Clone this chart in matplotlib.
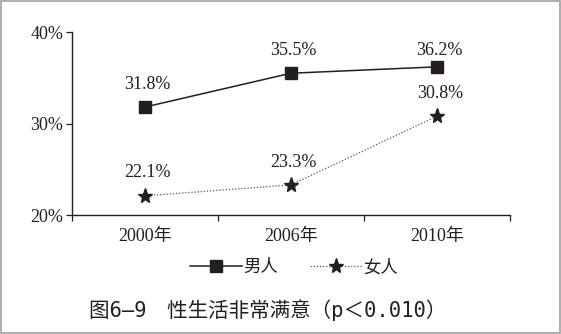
import matplotlib
matplotlib.use("Agg")
import matplotlib.pyplot as plt
from matplotlib.patches import Rectangle

# -----------------------------
# Data
# -----------------------------
years = ["2000年", "2006年", "2010年"]
men = [31.8, 35.5, 36.2]
women = [22.1, 23.3, 30.8]
y_ticks = [20, 30, 40]
y_tick_labels = ["20%", "30%", "40%"]
caption = "图6—9　性生活非常满意（p＜0.010）"

serif = ["Liberation Serif", "Noto Sans CJK SC"]
cjk = ["Noto Sans CJK SC", "DejaVu Sans"]
mono = ["DejaVu Sans Mono", "Noto Sans CJK SC"]
ink = "#231f20"

# -----------------------------
# Plot
# -----------------------------
fig = plt.figure(figsize=(5.61, 3.34), dpi=100)
ax = fig.add_axes([0.1276, 0.356, 0.7814, 0.548])

x = list(range(len(years)))
ax.plot(x, men, color=ink, lw=1.1, marker="s", markersize=8,
        label="男人", zorder=3)
ax.plot(x, women, color="#555555", lw=0.9, ls=(0, (1, 1.5)), marker="*",
        markersize=11, markerfacecolor=ink, markeredgecolor=ink,
        label="女人", zorder=3)

# value labels sit above each point, kept below the top of the plot
for series in (men, women):
    for xi, v in zip(x, series):
        ax.text(xi + 0.02, min(v + 2.5, 38.0), f"{v:.1f}%", ha="center",
                va="center", fontsize=13, family=serif, color=ink)

ax.set_xlim(-0.5, 2.5)
ax.set_ylim(20, 40)
ax.set_yticks(y_ticks)
ax.set_yticklabels(y_tick_labels, family=serif, fontsize=13, color=ink)

# category labels between boundary ticks
ax.set_xticks([-0.5, 0.5, 1.5, 2.5])
ax.set_xticklabels([])
ax.set_xticks(x, minor=True)
ax.set_xticklabels(years, minor=True, family=serif, fontsize=13, color=ink)
ax.tick_params(axis="x", which="minor", length=0, pad=9)
ax.tick_params(axis="x", which="major", direction="out", length=4,
               width=0.9, color=ink)
ax.tick_params(axis="y", direction="out", length=4, width=0.9, color=ink,
               pad=2)

for side in ["top", "right"]:
    ax.spines[side].set_visible(False)
for side in ["left", "bottom"]:
    ax.spines[side].set_color(ink)
    ax.spines[side].set_linewidth(1.0)

leg = fig.legend(loc="center", bbox_to_anchor=(0.524, 0.2), ncol=2,
                 frameon=False, handlelength=3.0, handletextpad=0.1,
                 columnspacing=1.8, prop={"family": cjk, "size": 12.5})
for t in leg.get_texts():
    t.set_color(ink)

fig.text(0.477, 0.072, caption, ha="center", va="center", fontsize=14.8,
         family=mono, color=ink, fontweight="medium")

# thin gray frame round the figure
fig.patches.append(Rectangle((0.001, 0.002), 0.997, 0.995,
                             transform=fig.transFigure, fill=False,
                             edgecolor="#a0a0a0", lw=1.2))

fig.savefig("out.png", dpi=100)
